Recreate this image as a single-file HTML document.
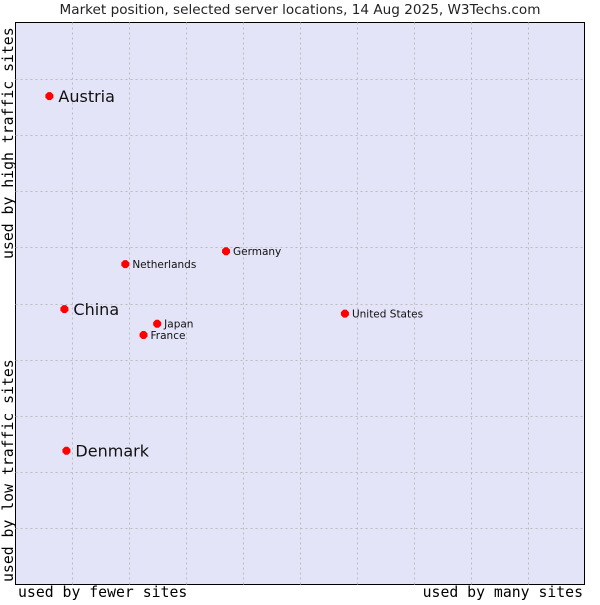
<!DOCTYPE html>
<html><head><meta charset="utf-8"><style>
body{margin:0;background:#fff;width:600px;height:600px;overflow:hidden}
</style></head><body>
<svg id="c" width="600" height="600" xmlns="http://www.w3.org/2000/svg">
<text x="300" y="14" text-anchor="middle" font-family="DejaVu Sans, sans-serif" font-size="13.6" fill="#222">Market position, selected server locations, 14 Aug 2025, W3Techs.com</text>
<rect x="15.5" y="22.5" width="569" height="562" fill="#e4e4f8" stroke="#000" stroke-width="1"/>
<g id="grid"></g>
<g id="pts"></g>
<text x="18" y="597" font-family="DejaVu Sans Mono, monospace" font-size="14.8" fill="#000">used by fewer sites</text>
<text x="583" y="597" text-anchor="end" font-family="DejaVu Sans Mono, monospace" font-size="14.8" fill="#000">used by many sites</text>
<text transform="translate(13,582) rotate(-90)" font-family="DejaVu Sans Mono, monospace" font-size="14.8" fill="#000">used by low traffic sites</text>
<text transform="translate(13,259) rotate(-90)" font-family="DejaVu Sans Mono, monospace" font-size="14.8" fill="#000">used by high traffic sites</text>
</svg>
<script>
const names=["Austria","China","Denmark","Netherlands","Germany","Japan","France","United States"];
const xVals=[5.96,8.6,8.95,19.3,37.0,24.9,22.5,57.9];
const yVals=[86.9,49.0,23.8,57.0,59.3,46.4,44.4,48.2];
const big=[true,true,true,false,false,false,false,false];
const X0=15.5,X1=584.5,Y0=584.5,Y1=22.5;
const sx=v=>X0+(X1-X0)*v/100, sy=v=>Y0-(Y0-Y1)*v/100;
const NS="http://www.w3.org/2000/svg";
const g=document.getElementById('grid'),p=document.getElementById('pts');
for(let i=1;i<10;i++){
 let l=document.createElementNS(NS,'line');
 
 
 l.setAttribute('x1',Math.round(sx(i*10))+0.5);l.setAttribute('x2',Math.round(sx(i*10))+0.5);
 l.setAttribute('y1',Y1);l.setAttribute('y2',Y0);
 l.setAttribute('stroke','#bbb');l.setAttribute('stroke-dasharray','2,3');g.appendChild(l);
 let h=document.createElementNS(NS,'line');
 
 
 h.setAttribute('y1',Math.round(sy(i*10))+0.5);h.setAttribute('y2',Math.round(sy(i*10))+0.5);
 h.setAttribute('x1',X0);h.setAttribute('x2',X1);
 h.setAttribute('stroke','#bbb');h.setAttribute('stroke-dasharray','2,3');g.appendChild(h);
}
names.forEach((n,i)=>{
 const x=sx(xVals[i]),y=sy(yVals[i]);
 const c=document.createElementNS(NS,'polygon');
 
 
 c.setAttribute('points',`${x-4},${y-1.5} ${x-1.5},${y-4} ${x+1.5},${y-4} ${x+4},${y-1.5} ${x+4},${y+1.5} ${x+1.5},${y+4} ${x-1.5},${y+4} ${x-4},${y+1.5}`);
 c.setAttribute('fill','#f00');p.appendChild(c);
 const t=document.createElementNS(NS,'text');
 
 
 t.setAttribute('x',x+(big[i]?9:7));t.setAttribute('y',y+(big[i]?6:4));
 t.setAttribute('font-family','DejaVu Sans, sans-serif');
 t.setAttribute('font-size',big[i]?16:10.5);t.setAttribute('fill','#111');
 t.textContent=n;p.appendChild(t);
});
</script>
</body></html>
